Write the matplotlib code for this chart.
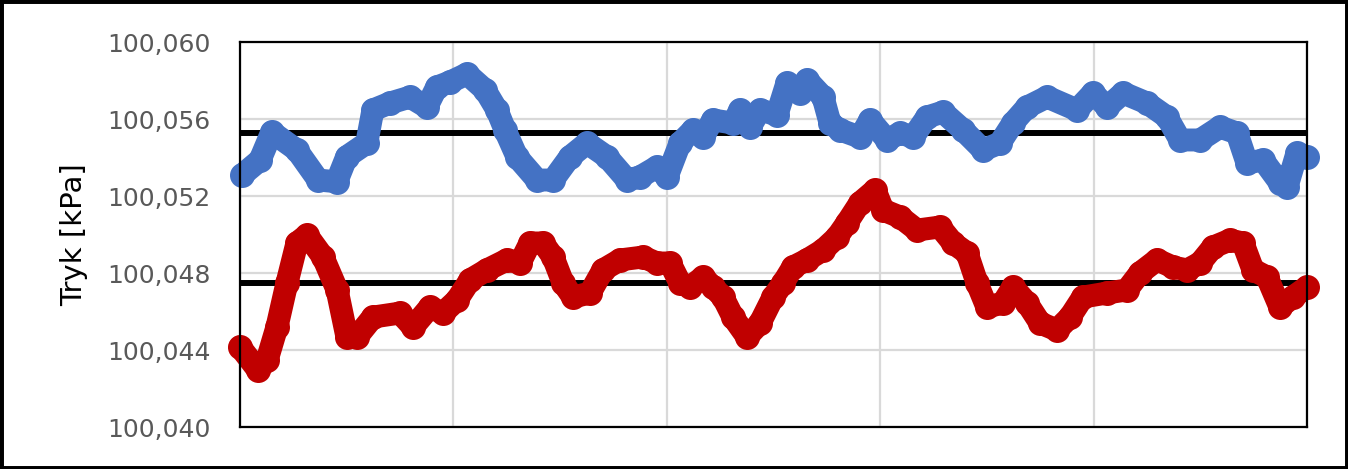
import matplotlib
matplotlib.use("Agg")
import matplotlib.pyplot as plt
from matplotlib.ticker import FuncFormatter, MultipleLocator
from matplotlib.patches import Rectangle

# ---- data ----
blue_x = [1, 9.4, 14.9, 26.6, 36.6, 45.3, 50.0, 59.4, 62.3, 70.3, 79.7, 87.5, 92.2, 98.4,
          106.4, 114.8, 120.4, 124.2, 129.8, 139.2, 146.7, 154.6, 162.6, 172.0, 181.4,
          187.4, 195.4, 200.1, 206.2, 212.3, 217.0, 221.6, 231.0, 234.3, 239.0, 243.7,
          251.6, 256.3, 262.4, 265.7, 273.2, 276.5, 281.2, 290.5, 295.2, 303.2, 309.3,
          315.4, 321.9, 329.4, 338.8, 348.2, 356.1, 362.2, 368.8, 378.2, 392.2, 399.7,
          406.3, 413.8, 425.0, 434.4, 440.5, 449.9, 459.2, 467.2, 471.9, 479.4, 487.3,
          490.6, 495.3, 500]
blue_y = [100.05309, 100.05387, 100.05532, 100.05439, 100.05283, 100.05274, 100.05404,
          100.05475, 100.05647, 100.05683, 100.05714, 100.05662, 100.05766, 100.05792,
          100.05834, 100.05751, 100.05647, 100.05543, 100.05403, 100.05283, 100.05283,
          100.05403, 100.05475, 100.05403, 100.05283, 100.05299, 100.05351, 100.05299,
          100.05475, 100.05543, 100.05506, 100.05595, 100.05579, 100.05647, 100.05558,
          100.05647, 100.05621, 100.05787, 100.05735, 100.05803, 100.05714, 100.05579,
          100.05543, 100.05506, 100.05595, 100.05491, 100.05527, 100.05506, 100.05610,
          100.05636, 100.05543, 100.05439, 100.05475, 100.05579, 100.05662, 100.05714,
          100.05647, 100.05735, 100.05662, 100.05735, 100.05683, 100.05610, 100.05491,
          100.05491, 100.05558, 100.05527, 100.05371, 100.05387, 100.05268, 100.05247,
          100.05423, 100.05403]

red_x = [0, 8.4, 12.7, 17.3, 22.0, 26.7, 31.4, 38.9, 45.5, 50.1, 54.8, 62.3, 75.0, 81.1,
         89.0, 95.1, 101.7, 107.8, 115.7, 125.1, 131.2, 135.9, 142.0, 146.7, 151.4, 156.0,
         164.0, 170.1, 178.1, 188.8, 195.4, 201.5, 206.2, 210.9, 217.0, 221.6, 226.3,
         231.0, 237.6, 243.7, 249.8, 254.5, 259.1, 265.7, 273.2, 279.8, 284.4, 290.5,
         297.6, 301.3, 309.3, 317.2, 328.0, 334.1, 340.7, 345.4, 350.0, 357.5, 362.2,
         368.8, 374.9, 382.8, 388.9, 395.0, 406.3, 415.6, 421.7, 429.7, 437.2, 443.8,
         449.9, 456.0, 463.9, 470.0, 474.7, 481.3, 487.3, 493.4, 500]
red_y = [100.04416, 100.04296, 100.04348, 100.04519, 100.04748, 100.04956, 100.04997,
         100.04883, 100.04712, 100.04468, 100.04468, 100.04571, 100.04592, 100.04519,
         100.04623, 100.04592, 100.04660, 100.04764, 100.04816, 100.04868, 100.04852,
         100.04956, 100.04956, 100.04883, 100.04748, 100.04675, 100.04696, 100.04816,
         100.04868, 100.04883, 100.04852, 100.04852, 100.04748, 100.04727, 100.04779,
         100.04727, 100.04675, 100.04571, 100.04468, 100.04540, 100.04675, 100.04748,
         100.04831, 100.04868, 100.04919, 100.04987, 100.05060, 100.05164, 100.05231,
         100.05127, 100.05091, 100.05023, 100.05039, 100.04956, 100.04904, 100.04748,
         100.04623, 100.04644, 100.04727, 100.04644, 100.04540, 100.04504, 100.04571,
         100.04675, 100.04696, 100.04712, 100.04800, 100.04868, 100.04831, 100.04816,
         100.04852, 100.04935, 100.04971, 100.04956, 100.04816, 100.04779, 100.04623,
         100.04675, 100.04727]

blue_mean = 100.05527
red_mean = 100.04748

y_ticks = [100.040, 100.044, 100.048, 100.052, 100.056, 100.060]
y_label = "Tryk [kPa]"

BLUE = "#4472C4"
RED = "#C00000"

fig = plt.figure(figsize=(13.48, 4.69), dpi=100)
ax = fig.add_axes([240 / 1348, 1 - 427 / 469, (1307 - 240) / 1348, (427 - 42) / 469])

ax.set_xlim(0, 500)
ax.set_ylim(100.040, 100.060)
ax.set_yticks(y_ticks)
ax.xaxis.set_major_locator(MultipleLocator(100))
ax.yaxis.set_major_formatter(FuncFormatter(lambda v, p: f"{v:.3f}".replace(".", ",")))
ax.set_xticklabels([])
ax.tick_params(axis="both", length=0)
ax.tick_params(axis="y", labelsize=18, labelcolor="#595959", pad=21)

ax.grid(True, color="#d9d9d9", linewidth=1.6, zorder=0)
ax.set_axisbelow(True)

ax.axhline(blue_mean, color="black", linewidth=4.3, zorder=2)
ax.axhline(red_mean, color="black", linewidth=4.3, zorder=2)

for xs, ys, c in [(blue_x, blue_y, BLUE), (red_x, red_y, RED)]:
    ax.plot(xs, ys, color=c, linewidth=16.5, marker="o", markersize=18,
            markeredgewidth=0, solid_joinstyle="round", solid_capstyle="round",
            zorder=3, clip_on=False)

for s in ax.spines.values():
    s.set_color("black")
    s.set_linewidth(1.6)
    s.set_zorder(4)

ax.set_ylabel(y_label, fontsize=21, color="black")
ax.yaxis.set_label_coords(-0.1425, 0.5)

fig.add_artist(Rectangle((0, 0), 1, 1, transform=fig.transFigure, fill=False,
                         edgecolor="black", linewidth=5))

fig.savefig("out.png", dpi=100)
